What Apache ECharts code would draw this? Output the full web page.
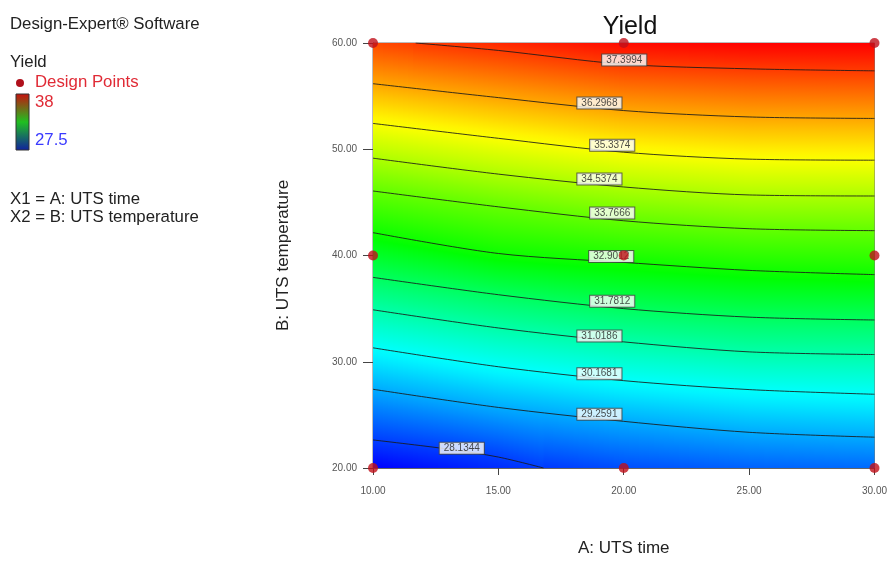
<!DOCTYPE html>
<html><head><meta charset="utf-8">
<script src="https://cdn.jsdelivr.net/npm/echarts@6/dist/echarts.min.js"></script>
<style>html,body{margin:0;padding:0;background:#fff}#c{width:890px;height:562px}</style>
</head><body><div id="c"></div>
<script>
// ---- data ----
const xTicks = ['10.00','15.00','20.00','25.00','30.00'];
const yTicks = ['20.00','30.00','40.00','50.00','60.00'];
const designPoints = [[10,20],[20,20],[30,20],[10,40],[20,40],[30,40],[10,60],[20,60],[30,60]];
const contourLevels = [37.3994, 36.2968, 35.3374, 34.5374, 33.7666, 32.9012, 31.7812, 31.0186, 30.1681, 29.2591, 28.1344];
const contourLabels = ['37.3994','36.2968','35.3374','34.5374','33.7666','32.9012','31.7812','31.0186','30.1681','29.2591','28.1344'];
const c37 = [[11.7,60],[15,59.3],[20,58.0],[25,57.57],[30,57.38]];
const c36 = [[10,56.17],[15,54.86],[20,53.64],[25,53.04],[30,52.9]];
const c35 = [[10,52.43],[15,51.03],[20,49.72],[25,49.07],[30,48.97]];
const c34 = [[10,49.16],[15,47.66],[20,46.45],[25,45.7],[30,45.6]];
const c33 = [[10,46.07],[15,44.58],[20,43.27],[25,42.52],[30,42.34]];
const c32 = [[10,42.15],[15,40.19],[20,39.35],[25,38.6],[30,38.2]];
const c31a = [[10,37.94],[15,36.31],[20,35.0],[25,34.2],[30,33.93]];
const c31b = [[10,34.89],[15,33.18],[20,31.87],[25,30.93],[30,30.68]];
const c30 = [[10,31.31],[15,29.53],[20,28.22],[25,27.38],[30,26.94]];
const c29 = [[10,27.41],[15,25.7],[20,24.39],[25,23.36],[30,22.9]];
const c28 = [[10,22.64],[13,21.78],[15,21.03],[16.8,20]];
const contours = [c37,c36,c35,c34,c33,c32,c31a,c31b,c30,c29,c28];
const labelPos = [[20.02,58.4],[19.03,54.35],[19.54,50.37],[19.03,47.2],[19.54,44.0],[19.5,39.9],[19.54,35.7],[19.03,32.43],[19.03,28.88],[19.03,25.05],[13.54,21.87]];
const edgeA = [10,15,20,25,30];
const edgeTop = [37.25,37.6,37.9,38.0,38.0];
const edgeBottom = [27.5,27.95,28.3,28.5,28.6];
const yMinVal = 27.5, yMaxVal = 38;

// ---- helpers ----
function interp(pts, a){
  if (a < pts[0][0] - 1e-9 || a > pts[pts.length-1][0] + 1e-9) return null;
  for (let i=0;i<pts.length-1;i++){
    const p=pts[i], q=pts[i+1];
    if (a>=p[0]-1e-9 && a<=q[0]+1e-9){ const t=(a-p[0])/(q[0]-p[0]); return p[1]+t*(q[1]-p[1]); }
  }
  return pts[pts.length-1][1];
}
const pal = [[0,[0,0,255]],[0.25,[0,255,255]],[0.5,[0,255,0]],[0.75,[255,255,0]],[1,[255,0,0]]];
function colorOf(v){
  let t=(v-yMinVal)/(yMaxVal-yMinVal); t=Math.max(0,Math.min(1,t));
  for(let i=0;i<pal.length-1;i++){
    const a=pal[i],b=pal[i+1];
    if(t<=b[0]){ const u=(t-a[0])/(b[0]-a[0]); const c=a[1].map((x,k)=>Math.round(x+u*(b[1][k]-x))); return 'rgb('+c.join(',')+')'; }
  }
  return 'rgb(255,0,0)';
}

function renderFill(params, api){
  const children=[];
  const step=0.2;
  const edgeTopPts = edgeA.map((a,i)=>[a,edgeTop[i]]);
  const edgeBotPts = edgeA.map((a,i)=>[a,edgeBottom[i]]);
  for(let a0=10;a0<30-1e-9;a0+=step){
    const ac=a0+step/2;
    const nodes=[[60, interp(edgeTopPts,ac)]];
    contours.forEach((c,i)=>{ const b=interp(c,ac); if(b!==null) nodes.push([b,contourLevels[i]]); });
    nodes.push([20, interp(edgeBotPts,ac)]);
    nodes.sort((p,q)=>q[0]-p[0]);
    const stops=[];
    for(let i=0;i<nodes.length;i++){
      const n=nodes[i];
      stops.push({offset:Math.max(0,Math.min(1,(60-n[0])/40)), color:colorOf(n[1])});
      if(i<nodes.length-1){
        const m=nodes[i+1];
        for(let k=1;k<6;k++){
          const u=k/6; const b=n[0]+u*(m[0]-n[0]); const v=n[1]+u*(m[1]-n[1]);
          stops.push({offset:Math.max(0,Math.min(1,(60-b)/40)), color:colorOf(v)});
        }
      }
    }
    const p1=api.coord([a0,60]), p2=api.coord([a0+step,20]);
    const last = a0+step >= 30-1e-9;
    children.push({type:'rect', shape:{x:p1[0],y:p1[1],width:p2[0]-p1[0]+(last?0:1.2),height:p2[1]-p1[1]},
      style:{fill:{type:'linear',x:0,y:0,x2:0,y2:1,colorStops:stops}}, silent:true});
  }
  return {type:'group', children};
}

const font='"Liberation Sans", Arial, sans-serif';
const series=[{type:'custom', renderItem:renderFill, data:[[10,20]], z:1, silent:true, clip:true}];
contours.forEach((c,i)=>{
  series.push({type:'line', data:c, smooth:0.3, symbol:'none', z:3, silent:true,
    lineStyle:{color:'#1a1a1a', width:1, opacity:0.85}});
});
series.push({type:'scatter', z:5, symbolSize:0, silent:true,
  data: labelPos.map((p,i)=>({value:p, name:contourLabels[i]})),
  label:{show:true, position:'inside', formatter:'{b}', fontSize:10, color:'#222', fontFamily:font,
    backgroundColor:'#fff', borderColor:'#444', borderWidth:1, padding:[1,4,0,4]}});
series.push({type:'scatter', z:8, data:designPoints, symbolSize:10, itemStyle:{color:'#c0101a'}, clip:false});

const option={
  animation:false,
  title:{text:'Yield', left:625, top:10, textAlign:'center', textStyle:{fontSize:25, fontWeight:'normal', color:'#111', fontFamily:font}},
  grid:{left:373, right:14, top:43, bottom:91, show:true, borderColor:'#777', borderWidth:1},
  xAxis:{type:'value', min:10, max:30, interval:5, name:'A: UTS time', nameLocation:'middle', nameGap:72,
    nameTextStyle:{fontSize:17, color:'#222', fontFamily:font},
    axisLine:{show:true, onZero:false, lineStyle:{color:'#666'}}, axisTick:{show:true, length:7, lineStyle:{color:'#444'}},
    axisLabel:{fontSize:10, color:'#555', margin:18, fontFamily:font, formatter:(v)=>xTicks[Math.round((v-10)/5)]},
    splitLine:{show:false}},
  yAxis:{type:'value', min:20, max:60, interval:10, name:'B: UTS temperature', nameLocation:'middle', nameGap:81,
    nameTextStyle:{fontSize:17, color:'#222', fontFamily:font},
    axisLine:{show:true, onZero:false, lineStyle:{color:'#666'}}, axisTick:{show:true, length:10, lineStyle:{color:'#444'}},
    axisLabel:{fontSize:10, color:'#555', margin:16, fontFamily:font, formatter:(v)=>yTicks[Math.round((v-20)/10)]},
    splitLine:{show:false}},
  graphic:[
    {type:'text', left:10, top:16, style:{text:'Design-Expert® Software', fill:'#222', font:'16.8px '+font}},
    {type:'text', left:10, top:54, style:{text:'Yield', fill:'#222', font:'16.8px '+font}},
    {type:'circle', shape:{cx:20, cy:83, r:4}, style:{fill:'#b0101c'}},
    {type:'text', left:35, top:74, style:{text:'Design Points', fill:'#e02a35', font:'16.8px '+font}},
    {type:'rect', shape:{x:16, y:94, width:13, height:56}, style:{stroke:'#333', lineWidth:1,
      fill:{type:'linear',x:0,y:0,x2:0,y2:1,colorStops:[{offset:0,color:'#c81010'},{offset:0.5,color:'#20c020'},{offset:1,color:'#1020a0'}]}}},
    {type:'text', left:35, top:94, style:{text:'38', fill:'#e02a35', font:'16.8px '+font}},
    {type:'text', left:35, top:132, style:{text:'27.5', fill:'#3a3aff', font:'16.8px '+font}},
    {type:'text', left:10, top:191, style:{text:'X1 = A: UTS time', fill:'#222', font:'16.8px '+font}},
    {type:'text', left:10, top:209, style:{text:'X2 = B: UTS temperature', fill:'#222', font:'16.8px '+font}}
  ],
  series
};
const chart=echarts.init(document.getElementById('c'));
chart.setOption(option);
</script></body></html>
